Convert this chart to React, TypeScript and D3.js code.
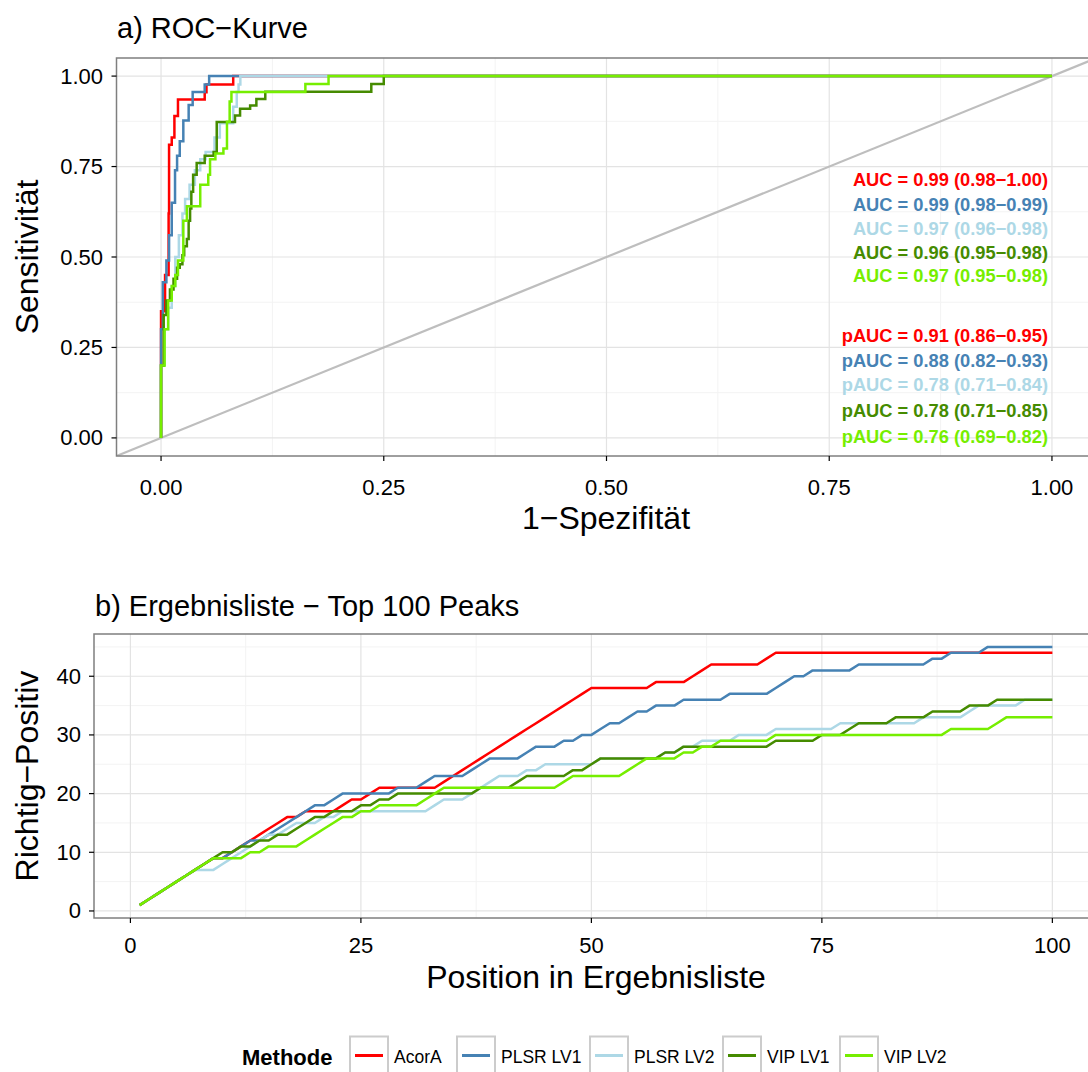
import React from 'react';
import * as d3 from 'd3';

const methods = ['AcorA', 'PLSR LV1', 'PLSR LV2', 'VIP LV1', 'VIP LV2'];
const colors = ['#FF0000', '#4682B4', '#ADD8E6', '#458B00', '#76EE00'];

// ROC curves: at each fpr the curve rises to the matching tpr
const rocAcorAFpr = [0, 0, 0.0045, 0.0085, 0.009, 0.012, 0.015, 0.019, 0.049, 0.051, 0.081, 1];
const rocAcorATpr = [0, 0.35, 0.45, 0.62, 0.81, 0.83, 0.89, 0.935, 0.955, 0.977, 1, 1];
const rocPlsr1Fpr = [0, 0, 0.002, 0.006, 0.009, 0.012, 0.0157, 0.018, 0.021, 0.025, 0.031, 0.0355, 0.049, 0.054, 1];
const rocPlsr1Tpr = [0, 0.3, 0.43, 0.49, 0.56, 0.65, 0.74, 0.78, 0.82, 0.877, 0.92, 0.956, 0.977, 1, 1];
const rocPlsr2Fpr = [0, 0, 0.004, 0.008, 0.012, 0.016, 0.02, 0.024, 0.027, 0.032, 0.038, 0.044, 0.05, 0.06, 0.066, 0.081, 0.085, 0.087, 0.089, 1];
const rocPlsr2Tpr = [0, 0.2, 0.3, 0.36, 0.42, 0.5, 0.56, 0.62, 0.66, 0.7, 0.74, 0.77, 0.79, 0.83, 0.87, 0.915, 0.956, 0.977, 1, 1];
const rocVip1Fpr = [0, 0, 0.003, 0.006, 0.01, 0.014, 0.018, 0.021, 0.024, 0.026, 0.029, 0.031, 0.0326, 0.034, 0.036, 0.04, 0.049, 0.059, 0.0625, 0.083, 0.0887, 0.1, 0.107, 0.117, 0.236, 0.25, 1];
const rocVip1Tpr = [0, 0.2, 0.34, 0.38, 0.41, 0.44, 0.47, 0.48, 0.505, 0.53, 0.55, 0.6, 0.634, 0.68, 0.727, 0.76, 0.78, 0.79, 0.873, 0.891, 0.91, 0.919, 0.937, 0.957, 0.978, 1, 1];
const rocVip2Fpr = [0, 0, 0.004, 0.008, 0.012, 0.016, 0.019, 0.025, 0.029, 0.044, 0.053, 0.055, 0.061, 0.07, 0.074, 0.077, 0.079, 0.162, 0.188, 1];
const rocVip2Tpr = [0, 0.2, 0.3, 0.38, 0.42, 0.45, 0.49, 0.6, 0.64, 0.7, 0.727, 0.77, 0.786, 0.8, 0.874, 0.93, 0.956, 0.978, 1, 1];

const aucLabels = [
  'AUC = 0.99 (0.98\u22121.00)',
  'AUC = 0.99 (0.98\u22120.99)',
  'AUC = 0.97 (0.96\u22120.98)',
  'AUC = 0.96 (0.95\u22120.98)',
  'AUC = 0.97 (0.95\u22120.98)',
];
const pAucLabels = [
  'pAUC = 0.91 (0.86\u22120.95)',
  'pAUC = 0.88 (0.82\u22120.93)',
  'pAUC = 0.78 (0.71\u22120.84)',
  'pAUC = 0.78 (0.71\u22120.85)',
  'pAUC = 0.76 (0.69\u22120.82)',
];

// cumulative true positives at list positions 1..100
const positions = d3.range(1, 101);
const tpAcorA = [
  1, 2, 3, 4, 5, 6, 7, 8, 9, 9,
  10, 11, 12, 13, 14, 15, 16, 16, 17, 17,
  17, 17, 18, 19, 19, 20, 21, 21, 21, 21,
  21, 21, 21, 22, 23, 24, 25, 26, 27, 28,
  29, 30, 31, 32, 33, 34, 35, 36, 37, 38,
  38, 38, 38, 38, 38, 38, 39, 39, 39, 39,
  40, 41, 42, 42, 42, 42, 42, 42, 43, 44,
  44, 44, 44, 44, 44, 44, 44, 44, 44, 44,
  44, 44, 44, 44, 44, 44, 44, 44, 44, 44,
  44, 44, 44, 44, 44, 44, 44, 44, 44, 44,
];
const tpPlsr1 = [
  1, 2, 3, 4, 5, 6, 7, 8, 9, 9,
  10, 11, 12, 12, 13, 14, 15, 16, 17, 18,
  18, 19, 20, 20, 20, 20, 20, 20, 21, 21,
  21, 22, 23, 23, 23, 23, 24, 25, 26, 26,
  26, 26, 27, 28, 28, 28, 29, 29, 30, 30,
  31, 32, 32, 33, 34, 34, 35, 35, 35, 36,
  36, 36, 36, 36, 37, 37, 37, 37, 37, 38,
  39, 40, 40, 41, 41, 41, 41, 41, 42, 42,
  42, 42, 42, 42, 42, 42, 43, 43, 44, 44,
  44, 44, 45, 45, 45, 45, 45, 45, 45, 45,
];
const tpPlsr2 = [
  1, 2, 3, 4, 5, 6, 7, 7, 7, 8,
  9, 10, 11, 12, 13, 13, 14, 15, 15, 15,
  16, 16, 17, 17, 17, 17, 17, 17, 17, 17,
  17, 17, 18, 19, 19, 19, 20, 21, 22, 23,
  23, 23, 24, 24, 25, 25, 25, 25, 25, 25,
  26, 26, 26, 26, 26, 26, 26, 27, 27, 28,
  28, 29, 29, 29, 29, 30, 30, 30, 30, 31,
  31, 31, 31, 31, 31, 31, 32, 32, 32, 32,
  32, 32, 32, 32, 32, 33, 33, 33, 33, 33,
  34, 35, 35, 35, 35, 35, 36, 36, 36, 36,
];
const tpVip1 = [
  1, 2, 3, 4, 5, 6, 7, 8, 9, 10,
  10, 11, 11, 12, 12, 13, 13, 14, 15, 16,
  16, 17, 17, 17, 18, 18, 19, 19, 20, 20,
  20, 20, 20, 20, 20, 20, 20, 21, 21, 21,
  21, 22, 23, 23, 23, 23, 23, 24, 24, 25,
  26, 26, 26, 26, 26, 26, 26, 27, 27, 28,
  28, 28, 28, 28, 28, 28, 28, 28, 28, 29,
  29, 29, 29, 29, 30, 30, 30, 31, 32, 32,
  32, 32, 33, 33, 33, 33, 34, 34, 34, 34,
  35, 35, 35, 36, 36, 36, 36, 36, 36, 36,
];
const tpVip2 = [
  1, 2, 3, 4, 5, 6, 7, 8, 9, 9,
  9, 9, 10, 10, 11, 11, 11, 11, 12, 13,
  14, 15, 16, 16, 17, 17, 18, 18, 18, 18,
  18, 19, 20, 21, 21, 21, 21, 21, 21, 21,
  21, 21, 21, 21, 21, 21, 22, 23, 23, 23,
  23, 23, 23, 24, 25, 26, 26, 26, 26, 27,
  27, 28, 28, 29, 29, 29, 29, 29, 29, 30,
  30, 30, 30, 30, 30, 30, 30, 30, 30, 30,
  30, 30, 30, 30, 30, 30, 30, 30, 31, 31,
  31, 31, 31, 32, 33, 33, 33, 33, 33, 33,
];

const rocTicks = [0, 0.25, 0.5, 0.75, 1];
const rocMinor = [0.125, 0.375, 0.625, 0.875];
const posTicks = [0, 25, 50, 75, 100];
const posMinor = [12.5, 37.5, 62.5, 87.5];
const tpTicks = [0, 10, 20, 30, 40];
const tpMinor = [5, 15, 25, 35, 45];

const FONT = '"Liberation Sans", Arial, Helvetica, sans-serif';
const W = 1088;
const H = 1072;

const rocFpr = [rocAcorAFpr, rocPlsr1Fpr, rocPlsr2Fpr, rocVip1Fpr, rocVip2Fpr];
const rocTpr = [rocAcorATpr, rocPlsr1Tpr, rocPlsr2Tpr, rocVip1Tpr, rocVip2Tpr];
const tpSeries = [tpAcorA, tpPlsr1, tpPlsr2, tpVip1, tpVip2];

// layout
const top = { left: 116.5, right: 1096.5, top: 58, bottom: 456 };
const bot = { left: 94, right: 1098, top: 634, bottom: 918 };
const aucY = [0.713, 0.645, 0.58, 0.513, 0.449];
const pAucY = [0.282, 0.213, 0.148, 0.075, 0.003];
const legendX = [350, 457, 590, 723, 840];

export default function App() {
  const xR = d3.scaleLinear().domain([-0.05, 1.05]).range([top.left, top.right]);
  const yR = d3.scaleLinear().domain([-0.05, 1.05]).range([top.bottom, top.top]);
  const xP = d3.scaleLinear().domain([-3.95, 104.95]).range([bot.left, bot.right]);
  const yP = d3.scaleLinear().domain([-1.2, 47.2]).range([bot.bottom, bot.top]);

  const rocLine = d3
    .line<[number, number]>()
    .x((d) => xR(d[0]))
    .y((d) => yR(d[1]))
    .curve(d3.curveStepAfter);
  const tpLine = d3
    .line<number>()
    .x((d, i) => xP(positions[i]))
    .y((d) => yP(d));

  const fmt = d3.format('.2f');
  const gridMajor = '#E3E3E3';
  const gridMinor = '#F3F3F3';
  const tickFont = 22;
  const titleFont = 29;
  const axisFont = 32;

  return (
    <svg width={W} height={H} style={{ position: 'absolute', left: 0, top: 0, background: '#fff' }} fontFamily={FONT}>
      <defs>
        <clipPath id="clipTop">
          <rect x={top.left} y={top.top} width={top.right - top.left} height={top.bottom - top.top} />
        </clipPath>
        <clipPath id="clipBot">
          <rect x={bot.left} y={bot.top} width={bot.right - bot.left} height={bot.bottom - bot.top} />
        </clipPath>
      </defs>
      <rect width={W} height={H} fill="#fff" />

      {/* a) ROC panel */}
      <text x={117} y={28} fontSize={titleFont} dominantBaseline="central">a) ROC{'\u2212'}Kurve</text>
      <g clipPath="url(#clipTop)">
        {rocMinor.map((v) => (
          <g key={'m' + v}>
            <line x1={xR(v)} x2={xR(v)} y1={top.top} y2={top.bottom} stroke={gridMinor} strokeWidth={1} />
            <line x1={top.left} x2={top.right} y1={yR(v)} y2={yR(v)} stroke={gridMinor} strokeWidth={1} />
          </g>
        ))}
        {rocTicks.map((v) => (
          <g key={'M' + v}>
            <line x1={xR(v)} x2={xR(v)} y1={top.top} y2={top.bottom} stroke={gridMajor} strokeWidth={1.2} />
            <line x1={top.left} x2={top.right} y1={yR(v)} y2={yR(v)} stroke={gridMajor} strokeWidth={1.2} />
          </g>
        ))}
        <line x1={xR(-0.05)} y1={yR(-0.05)} x2={xR(1.05)} y2={yR(1.05)} stroke="#BEBEBE" strokeWidth={2.2} />
        {rocFpr.map((fpr, k) => (
          <path
            key={methods[k]}
            d={rocLine(fpr.map((f, i) => [f, rocTpr[k][i]] as [number, number])) || ''}
            fill="none"
            stroke={colors[k]}
            strokeWidth={2.5}
          />
        ))}
      </g>
      <rect x={top.left} y={top.top} width={top.right - top.left} height={top.bottom - top.top} fill="none" stroke="#7F7F7F" strokeWidth={1.5} />
      {aucLabels.map((t, k) => (
        <text key={t} x={1048} y={yR(aucY[k])} fill={colors[k]} fontSize={18.3} fontWeight="bold" textAnchor="end" dominantBaseline="central">{t}</text>
      ))}
      {pAucLabels.map((t, k) => (
        <text key={t} x={1048} y={yR(pAucY[k])} fill={colors[k]} fontSize={18.3} fontWeight="bold" textAnchor="end" dominantBaseline="central">{t}</text>
      ))}
      {rocTicks.map((v) => (
        <g key={'tx' + v}>
          <line x1={xR(v)} x2={xR(v)} y1={top.bottom} y2={top.bottom + 5} stroke="#000" strokeWidth={1.2} />
          <text x={xR(v)} y={487} fontSize={tickFont} textAnchor="middle" dominantBaseline="central">{fmt(v)}</text>
          <line x1={top.left - 5} x2={top.left} y1={yR(v)} y2={yR(v)} stroke="#000" strokeWidth={1.2} />
          <text x={103} y={yR(v)} fontSize={tickFont} textAnchor="end" dominantBaseline="central">{fmt(v)}</text>
        </g>
      ))}
      <text x={606} y={518} fontSize={axisFont} textAnchor="middle" dominantBaseline="central">1{'\u2212'}Spezifität</text>
      <text transform={`translate(27,${yR(0.5)}) rotate(-90)`} fontSize={axisFont} textAnchor="middle" dominantBaseline="central">Sensitivität</text>

      {/* b) result list panel */}
      <text x={95} y={606} fontSize={titleFont} dominantBaseline="central">b) Ergebnisliste {'\u2212'} Top 100 Peaks</text>
      <g clipPath="url(#clipBot)">
        {posMinor.map((v) => (
          <line key={'pm' + v} x1={xP(v)} x2={xP(v)} y1={bot.top} y2={bot.bottom} stroke={gridMinor} strokeWidth={1} />
        ))}
        {tpMinor.map((v) => (
          <line key={'tm' + v} x1={bot.left} x2={bot.right} y1={yP(v)} y2={yP(v)} stroke={gridMinor} strokeWidth={1} />
        ))}
        {posTicks.map((v) => (
          <line key={'pM' + v} x1={xP(v)} x2={xP(v)} y1={bot.top} y2={bot.bottom} stroke={gridMajor} strokeWidth={1.2} />
        ))}
        {tpTicks.map((v) => (
          <line key={'tM' + v} x1={bot.left} x2={bot.right} y1={yP(v)} y2={yP(v)} stroke={gridMajor} strokeWidth={1.2} />
        ))}
        {tpSeries.map((s, k) => (
          <path key={methods[k]} d={tpLine(s) || ''} fill="none" stroke={colors[k]} strokeWidth={2.5} strokeLinejoin="round" />
        ))}
      </g>
      <rect x={bot.left} y={bot.top} width={bot.right - bot.left} height={bot.bottom - bot.top} fill="none" stroke="#7F7F7F" strokeWidth={1.5} />
      {posTicks.map((v) => (
        <g key={'px' + v}>
          <line x1={xP(v)} x2={xP(v)} y1={bot.bottom} y2={bot.bottom + 5} stroke="#000" strokeWidth={1.2} />
          <text x={xP(v)} y={945} fontSize={tickFont} textAnchor="middle" dominantBaseline="central">{v}</text>
        </g>
      ))}
      {tpTicks.map((v) => (
        <g key={'ty' + v}>
          <line x1={bot.left - 5} x2={bot.left} y1={yP(v)} y2={yP(v)} stroke="#000" strokeWidth={1.2} />
          <text x={81} y={yP(v)} fontSize={tickFont} textAnchor="end" dominantBaseline="central">{v}</text>
        </g>
      ))}
      <text x={596} y={977} fontSize={axisFont} textAnchor="middle" dominantBaseline="central">Position in Ergebnisliste</text>
      <text transform={`translate(27,${(bot.top + bot.bottom) / 2}) rotate(-90)`} fontSize={axisFont} textAnchor="middle" dominantBaseline="central">Richtig{'\u2212'}Positiv</text>

      {/* legend */}
      <text x={242} y={1057} fontSize={22} fontWeight="bold" dominantBaseline="central">Methode</text>
      {methods.map((m, k) => (
        <g key={'lg' + m}>
          <rect x={legendX[k]} y={1036.5} width={38} height={38} fill="#fff" stroke="#CCCCCC" strokeWidth={2} />
          <line x1={legendX[k] + 5} x2={legendX[k] + 33} y1={1055.5} y2={1055.5} stroke={colors[k]} strokeWidth={3} />
          <text x={legendX[k] + 44} y={1057} fontSize={17.5} dominantBaseline="central">{m}</text>
        </g>
      ))}
    </svg>
  );
}
